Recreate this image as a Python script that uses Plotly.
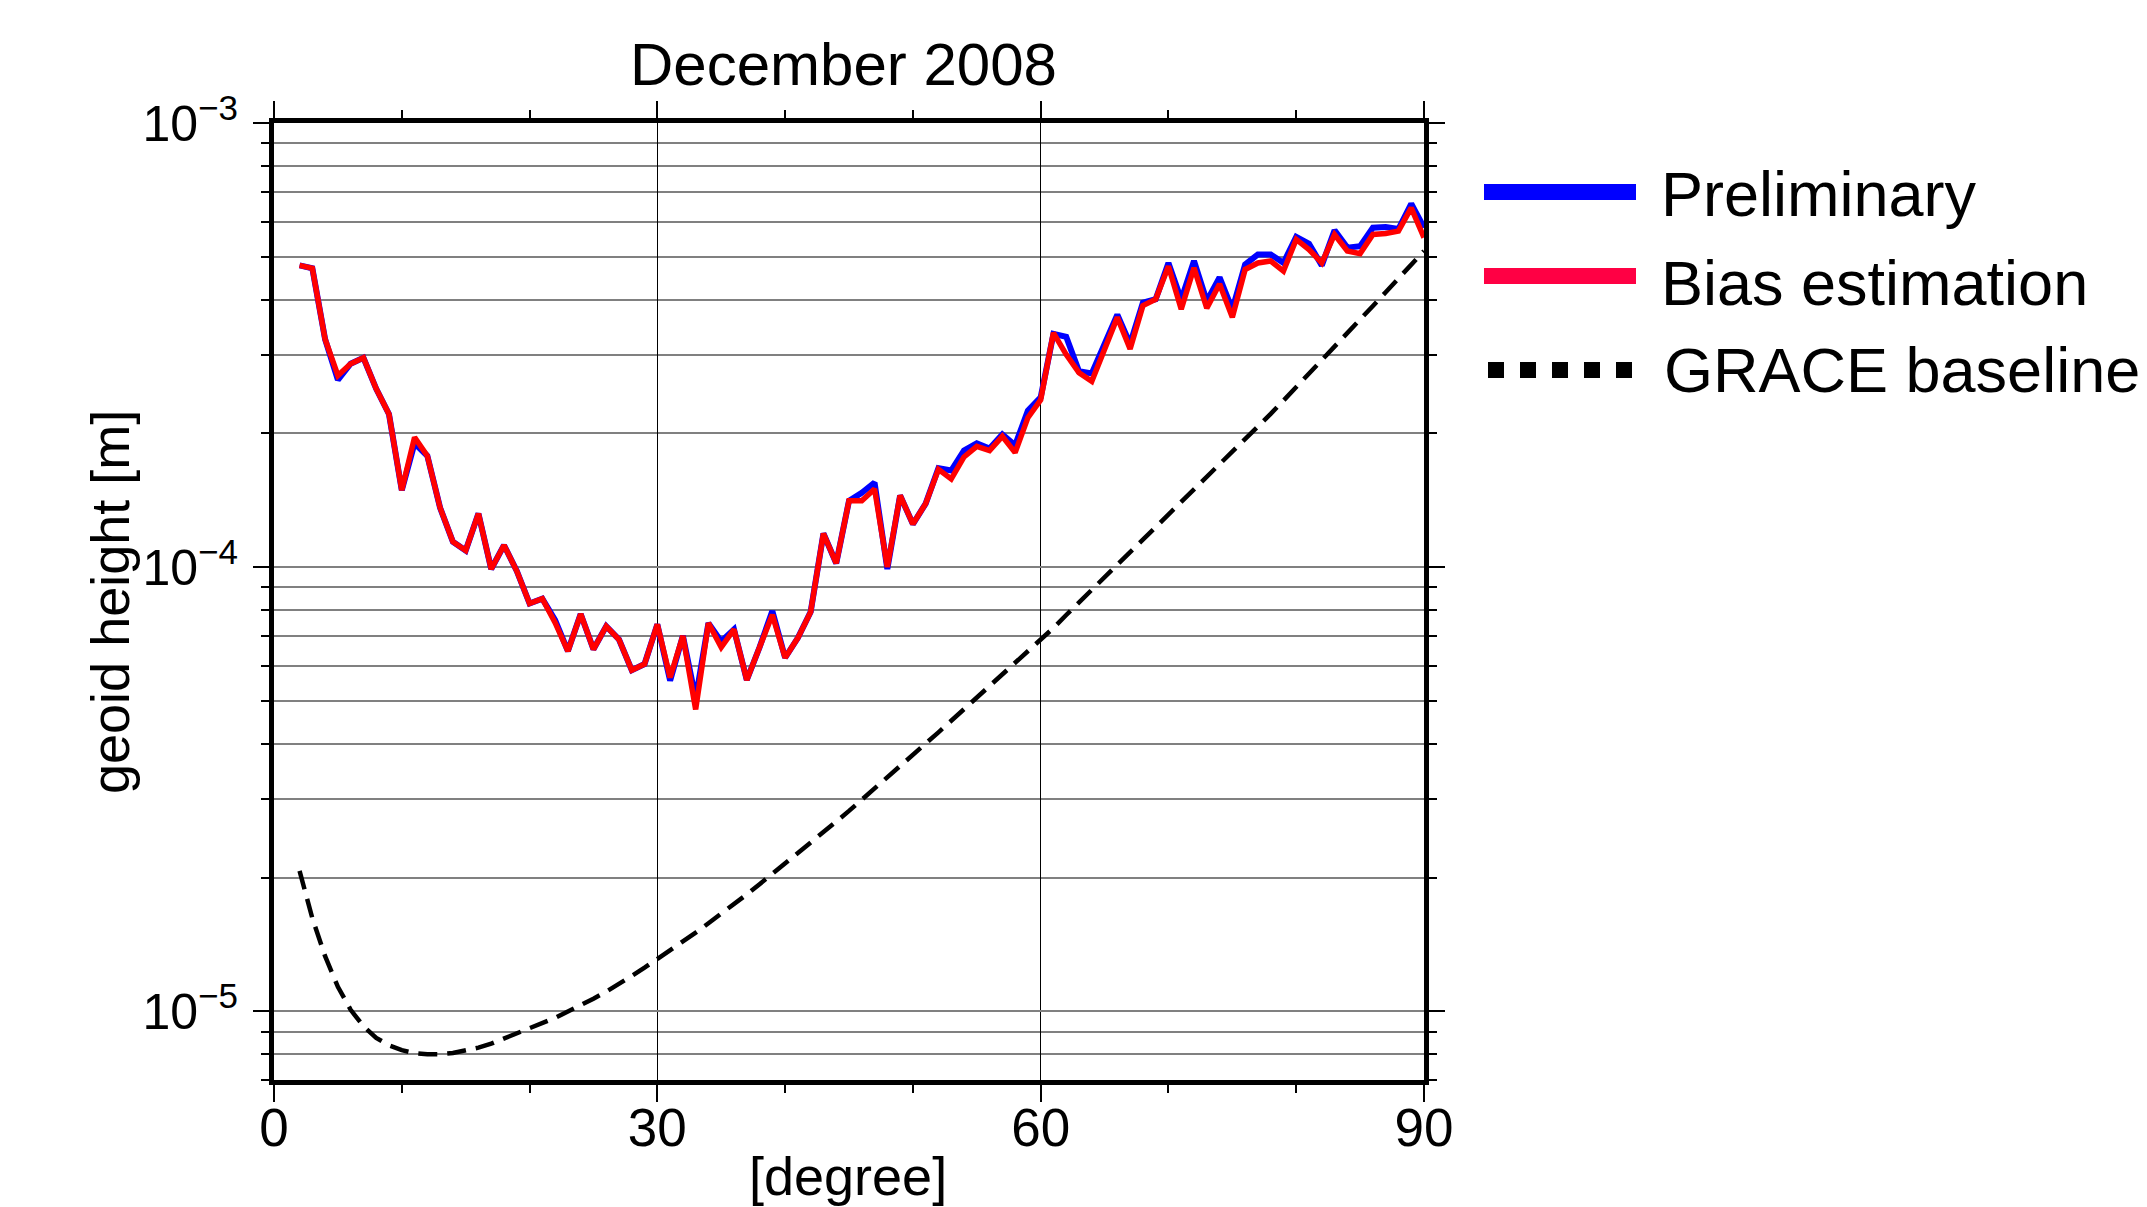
import plotly.graph_objects as go

# ---------------- data ----------------
degree = list(range(2, 91))

preliminary = [
    4.78e-4, 4.71e-4, 3.26e-4, 2.64e-4, 2.87e-4, 2.96e-4, 2.52e-4, 2.21e-4, 1.49e-4,   # 2-10
    1.90e-4, 1.78e-4, 1.36e-4, 1.14e-4, 1.09e-4, 1.32e-4, 9.9e-5, 1.12e-4, 9.8e-5, 8.28e-5,  # 11-20
    8.49e-5, 7.6e-5, 6.47e-5, 7.84e-5, 6.53e-5, 7.36e-5, 6.87e-5, 5.86e-5, 6.05e-5, 7.43e-5,  # 21-30
    5.55e-5, 7.0e-5, 5.05e-5, 7.48e-5, 6.8e-5, 7.24e-5, 5.57e-5, 6.6e-5, 7.96e-5, 6.25e-5,   # 31-40
    6.93e-5, 7.93e-5, 1.19e-4, 1.02e-4, 1.41e-4, 1.47e-4, 1.55e-4, 9.9e-5, 1.45e-4, 1.25e-4,  # 41-50
    1.39e-4, 1.67e-4, 1.65e-4, 1.83e-4, 1.90e-4, 1.85e-4, 1.99e-4, 1.88e-4, 2.25e-4, 2.41e-4,  # 51-60
    3.35e-4, 3.30e-4, 2.76e-4, 2.73e-4, 3.20e-4, 3.70e-4, 3.18e-4, 3.94e-4, 4.01e-4, 4.84e-4,  # 61-70
    4.00e-4, 4.89e-4, 3.97e-4, 4.49e-4, 3.80e-4, 4.80e-4, 5.06e-4, 5.06e-4, 4.84e-4, 5.54e-4,  # 71-80
    5.35e-4, 4.78e-4, 5.73e-4, 5.24e-4, 5.28e-4, 5.81e-4, 5.83e-4, 5.77e-4, 6.58e-4, 5.81e-4,  # 81-90
]

bias_estimation = [
    4.78e-4, 4.71e-4, 3.26e-4, 2.70e-4, 2.87e-4, 2.96e-4, 2.52e-4, 2.21e-4, 1.49e-4,   # 2-10
    1.96e-4, 1.78e-4, 1.36e-4, 1.14e-4, 1.09e-4, 1.32e-4, 9.9e-5, 1.12e-4, 9.8e-5, 8.28e-5,  # 11-20
    8.49e-5, 7.5e-5, 6.47e-5, 7.84e-5, 6.53e-5, 7.36e-5, 6.87e-5, 5.86e-5, 6.05e-5, 7.43e-5,  # 21-30
    5.64e-5, 7.0e-5, 4.78e-5, 7.48e-5, 6.6e-5, 7.24e-5, 5.57e-5, 6.6e-5, 7.81e-5, 6.25e-5,   # 31-40
    6.93e-5, 7.93e-5, 1.19e-4, 1.02e-4, 1.41e-4, 1.41e-4, 1.50e-4, 1.0e-4, 1.45e-4, 1.25e-4,  # 41-50
    1.39e-4, 1.66e-4, 1.58e-4, 1.77e-4, 1.87e-4, 1.83e-4, 1.97e-4, 1.81e-4, 2.17e-4, 2.38e-4,  # 51-60
    3.37e-4, 3.01e-4, 2.74e-4, 2.62e-4, 3.12e-4, 3.65e-4, 3.10e-4, 3.88e-4, 4.01e-4, 4.76e-4,  # 61-70
    3.81e-4, 4.72e-4, 3.83e-4, 4.34e-4, 3.65e-4, 4.68e-4, 4.84e-4, 4.89e-4, 4.64e-4, 5.47e-4,  # 71-80
    5.19e-4, 4.84e-4, 5.61e-4, 5.15e-4, 5.08e-4, 5.61e-4, 5.64e-4, 5.71e-4, 6.44e-4, 5.52e-4,  # 81-90
]

grace_baseline = [
    2.07e-5, 1.62e-5, 1.33e-5, 1.135e-5, 1.007e-5, 9.25e-6, 8.71e-6, 8.38e-6, 8.17e-6,        # 2-10
    8.05e-6, 8.0e-6, 8.0e-6, 8.05e-6, 8.15e-6, 8.28e-6, 8.45e-6, 8.67e-6, 8.91e-6, 9.12e-6,    # 11-20
    9.38e-6, 9.66e-6, 9.98e-6, 1.03e-5, 1.067e-5, 1.107e-5, 1.151e-5, 1.20e-5, 1.253e-5, 1.309e-5,  # 21-30
    1.368e-5, 1.432e-5, 1.503e-5, 1.578e-5, 1.656e-5, 1.742e-5, 1.832e-5, 1.932e-5, 2.037e-5, 2.148e-5,  # 31-40
    2.265e-5, 2.393e-5, 2.529e-5, 2.673e-5, 2.825e-5, 2.992e-5, 3.17e-5, 3.357e-5, 3.556e-5, 3.776e-5,  # 41-50
    4.009e-5, 4.246e-5, 4.508e-5, 4.786e-5, 5.082e-5, 5.383e-5, 5.715e-5, 6.067e-5, 6.442e-5, 6.823e-5,  # 51-60
    7.295e-5, 7.80e-5, 8.337e-5, 8.913e-5, 9.506e-5, 1.014e-4, 1.081e-4, 1.153e-4, 1.230e-4, 1.312e-4,  # 61-70
    1.400e-4, 1.493e-4, 1.592e-4, 1.698e-4, 1.811e-4, 1.932e-4, 2.065e-4, 2.213e-4, 2.371e-4, 2.541e-4,  # 71-80
    2.723e-4, 2.917e-4, 3.126e-4, 3.357e-4, 3.606e-4, 3.873e-4, 4.159e-4, 4.467e-4, 4.797e-4, 5.152e-4,  # 81-90
]

x_tickvals = [0, 30, 60, 90]
x_ticktext = ["0", "30", "60", "90"]
x_minor_vals = [10, 20, 40, 50, 70, 80]
y_tickvals = [1e-5, 1e-4, 1e-3]
y_ticktext = ["10<sup>\u22125</sup>", "10<sup>\u22124</sup>", "10<sup>\u22123</sup>"]
y_minor_vals = [m * 10.0 ** e for e in (-6, -5, -4) for m in range(2, 10)]

title_text = "December 2008"
x_title = "[degree]"
y_title = "geoid height [m]"
legend_names = ["Preliminary", "Bias estimation", "GRACE baseline"]

# ---------------- figure ----------------
W, H = 2147, 1207
L, R, T, B = 274, 1424, 123, 1080
FONT = "Liberation Sans, Arial, Helvetica, sans-serif"


def px(xp):
    return (xp - L) / (R - L)


def py(yp):
    return (B - yp) / (B - T)


fig = go.Figure()
fig.add_trace(go.Scatter(x=degree, y=grace_baseline, mode="lines",
                         line=dict(color="black", width=4.5, dash="19px,10px"),
                         name=legend_names[2], showlegend=False))
fig.add_trace(go.Scatter(x=degree, y=preliminary, mode="lines",
                         line=dict(color="#0000ff", width=6),
                         name=legend_names[0], showlegend=False))
fig.add_trace(go.Scatter(x=degree, y=bias_estimation, mode="lines",
                         line=dict(color="#ff0000", width=5.5),
                         name=legend_names[1], showlegend=False))

fig.update_layout(
    width=W, height=H,
    margin=dict(l=L, r=W - R, t=T, b=H - B, pad=0),
    paper_bgcolor="white", plot_bgcolor="white",
    font=dict(family=FONT, color="black", size=52),
    showlegend=False,
)

fig.update_xaxes(
    range=[0, 90], tickmode="array", tickvals=x_tickvals, ticktext=x_ticktext,
    ticks="outside", ticklen=17, tickwidth=2, tickcolor="black",
    showline=True, linewidth=5, linecolor="black", mirror="allticks",
    showgrid=True, gridcolor="black", gridwidth=1, zeroline=False,
    tickfont=dict(size=53, family=FONT), ticklabelstandoff=-20,
    minor=dict(tickmode="array", tickvals=x_minor_vals, ticks="outside",
               ticklen=8, tickwidth=2, tickcolor="black", showgrid=False),
)
fig.update_yaxes(
    type="log", range=[-5.1549, -3.0], tickmode="array",
    tickvals=y_tickvals, ticktext=y_ticktext,
    ticks="outside", ticklen=16, tickwidth=2, tickcolor="black",
    showline=True, linewidth=5, linecolor="black", mirror="allticks",
    showgrid=True, gridcolor="#808080", gridwidth=2, zeroline=False,
    tickfont=dict(size=50, family=FONT), ticklabelstandoff=5,
    minor=dict(tickmode="array", tickvals=y_minor_vals, ticks="outside",
               ticklen=8, tickwidth=2, tickcolor="black",
               showgrid=True, gridcolor="#808080", gridwidth=2),
)

annotations = [
    dict(text=title_text, x=px(843), y=py(64), xref="paper", yref="paper",
         xanchor="center", yanchor="middle", showarrow=False,
         font=dict(size=60, family=FONT, color="black")),
    dict(text=x_title, x=px(848), y=py(1176), xref="paper", yref="paper",
         xanchor="center", yanchor="middle", showarrow=False,
         font=dict(size=54, family=FONT, color="black")),
    dict(text=y_title, x=px(110), y=py(602), xref="paper", yref="paper",
         xanchor="center", yanchor="middle", showarrow=False, textangle=-90,
         font=dict(size=54, family=FONT, color="black")),
]
legend_rows = [(legend_names[0], 194, 1659), (legend_names[1], 283, 1659), (legend_names[2], 370, 1662)]
for name, yc, xs in legend_rows:
    annotations.append(dict(text=name, x=px(xs), y=py(yc), xref="paper", yref="paper",
                            xanchor="left", yanchor="middle", showarrow=False,
                            font=dict(size=63, family=FONT, color="black")))
fig.update_layout(annotations=annotations)

shapes = [
    dict(type="line", xref="paper", yref="paper", x0=px(1484), x1=px(1636), y0=py(192), y1=py(192),
         line=dict(color="#0000ff", width=16)),
    dict(type="line", xref="paper", yref="paper", x0=px(1484), x1=px(1636), y0=py(276), y1=py(276),
         line=dict(color="#ff0044", width=16)),
    dict(type="line", xref="paper", yref="paper", x0=px(1488), x1=px(1636), y0=py(370), y1=py(370),
         line=dict(color="black", width=16, dash="16px,16px")),
]
fig.update_layout(shapes=shapes)

fig.write_html("out.html", config={"displayModeBar": False},
               post_script="document.body.style.margin='0px';document.body.style.overflow='hidden';")
